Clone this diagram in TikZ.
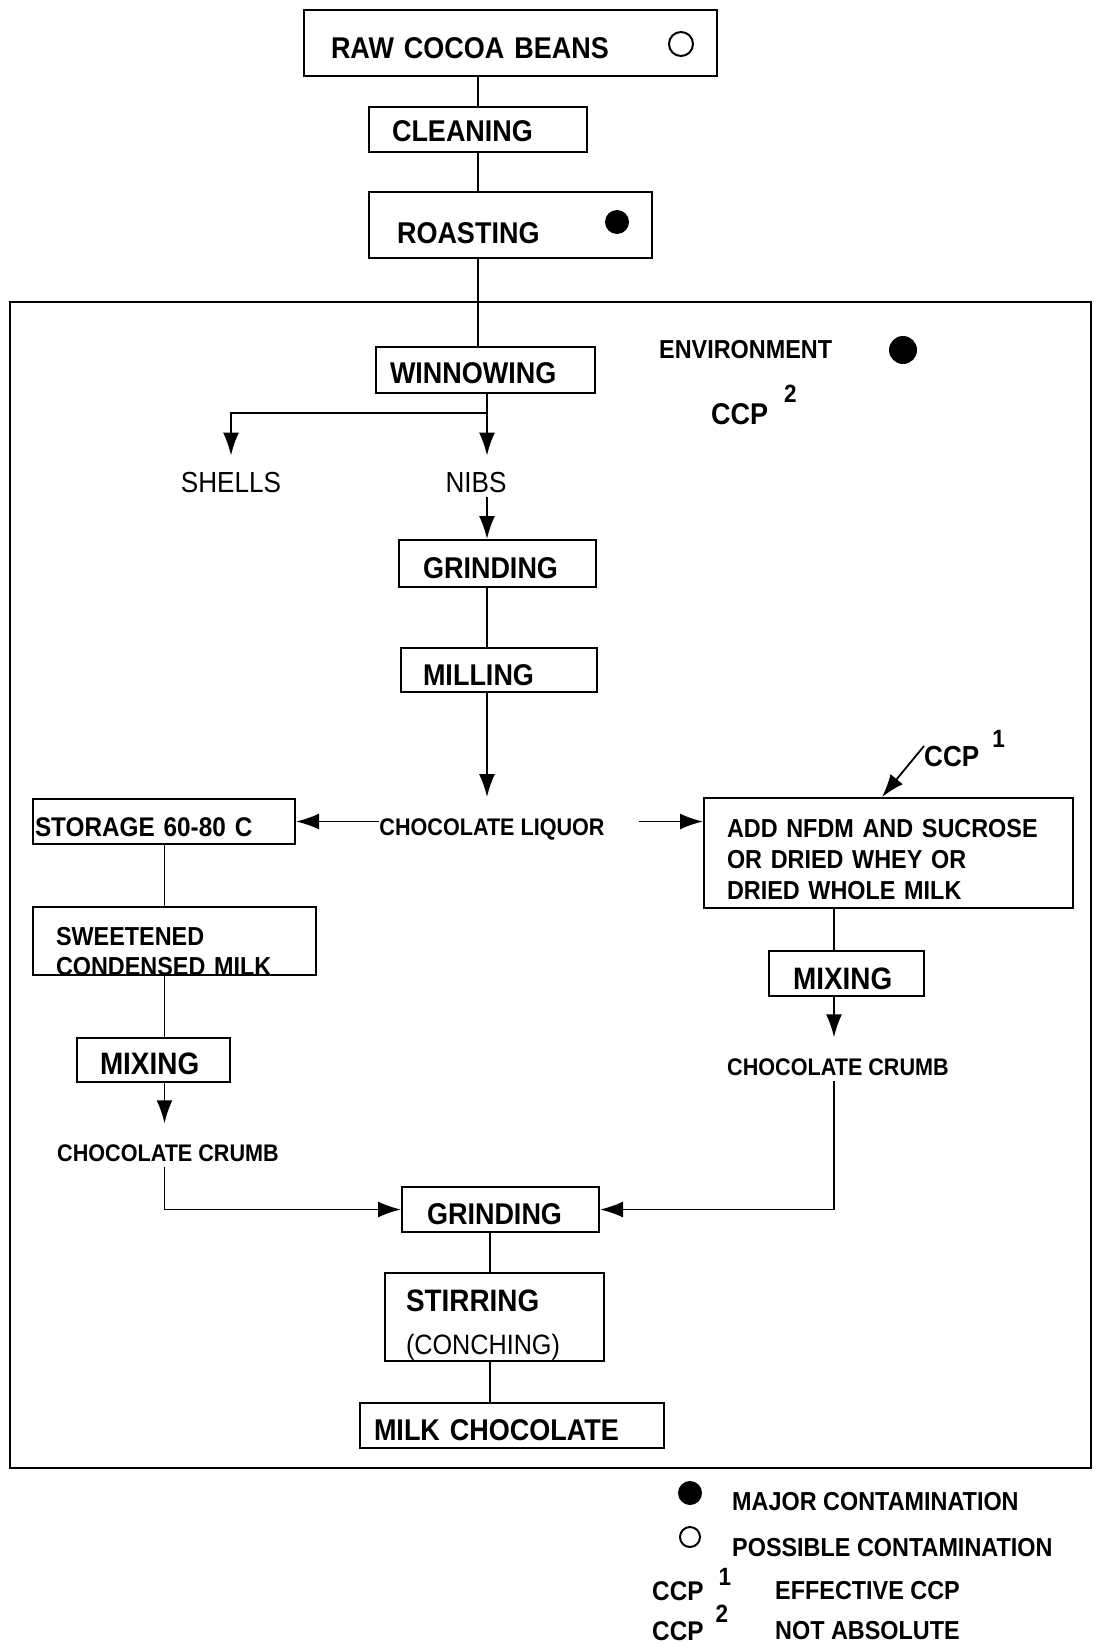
\documentclass[tikz,border=0pt]{standalone}
\usepackage{fontspec}
\setmainfont[FakeStretch=0.9]{Liberation Sans}
\usetikzlibrary{arrows.meta,positioning}
\newcommand{\fsz}[1]{\fontsize{#1}{#1}\selectfont}
% lower the ink of a label, keep its box
\newcommand{\dn}[2]{\raisebox{-#1}[\height][\depth]{#2}}
% CCP with a raised number: gap, raise, number
\newcommand{\ccpsup}[3]{CCP\hspace{#1}\raisebox{#2}{\fsz{25}#3}}

\begin{document}
\begin{tikzpicture}[x=1pt,y=-1pt]
  \tikzstyle{procbox} = [rectangle, draw=black, line width=2pt, align=left, inner ysep=0pt, font=\fsz{30}\bfseries]
  \tikzstyle{flowtext} = [inner sep=0pt, font=\fsz{24}\bfseries]
  \tikzstyle{plaintext} = [inner sep=0pt, font=\fsz{29}]
  \tikzstyle{legendtext} = [inner sep=0pt, anchor=west, font=\fsz{26}\bfseries]
  \tikzstyle{opendot} = [circle, draw=black, line width=2pt, minimum size=24pt, inner sep=0pt]
  \tikzstyle{fulldot} = [circle, fill=black, minimum size=24pt, inner sep=0pt]
  \tikzstyle{link} = [line width=1.8pt]
  \tikzstyle{arrow} = [link, -{Latex[length=23pt,width=16pt]}]

  \useasboundingbox (0,0) rectangle (1093,1645);

  % environment frame
  \draw [line width=2pt] (10,302) rectangle (1091,1468);

  \node (raw) [procbox, minimum height=66pt, text width=359pt, inner xsep=27pt] at (510.5,43) {\dn{5pt}{RAW COCOA BEANS}};
  \node (rawmark) [opendot] at (681,44) {};
  \node (clean) [procbox, minimum height=45pt, text width=172pt, inner xsep=23pt] at (478,129.5) {\dn{2pt}{CLEANING}};
  \node (roast) [procbox, minimum height=66pt, text width=227pt, inner xsep=28pt] at (510.5,225) {\dn{8pt}{ROASTING}};
  \node (roastmark) [fulldot] at (617,222) {};
  \node (winnow) [procbox, minimum height=46pt, text width=191pt, inner xsep=14pt] at (485.5,370) {\dn{3pt}{WINNOWING}};

  \node (env) [legendtext] at (659,350) {ENVIRONMENT};
  \node (envmark) [fulldot, minimum size=28pt] at (903,350) {};
  \node (ccpB) [anchor=base west, inner sep=0pt, font=\fsz{30}\bfseries] at (711,424) {\ccpsup{16pt}{22pt}{2}};

  \node (shells) [plaintext] at (231,483) {SHELLS};
  \node (nibs) [plaintext] at (476,483) {NIBS};
  \node (grindA) [procbox, minimum height=47pt, text width=149pt, inner xsep=24pt] at (497.5,563.5) {\dn{5pt}{GRINDING}};
  \node (mill) [procbox, minimum height=44pt, text width=152pt, inner xsep=22pt] at (499,670) {\dn{5pt}{MILLING}};
  \node (liquor) [flowtext] at (492,829) {CHOCOLATE LIQUOR};

  \node (storage) [procbox, minimum height=45pt, text width=258pt, inner xsep=2pt, font=\fsz{27}\bfseries] at (164,821.5) {\dn{6pt}{STORAGE 60-80 C}};
  \node (add) [procbox, minimum height=110pt, text width=323pt, inner xsep=23pt, font=\fontsize{26}{31}\selectfont\bfseries] at (888.5,853) {\dn{7pt}{ADD NFDM AND SUCROSE}\\\dn{7pt}{OR DRIED WHEY OR}\\\dn{7pt}{DRIED WHOLE MILK}};
  \node (ccpA) [anchor=base west, inner sep=0pt, font=\fsz{29}\bfseries] at (924,766) {\ccpsup{13pt}{19pt}{1}};

  \node (sweet) [procbox, minimum height=68pt, text width=237pt, inner xsep=23pt, font=\fontsize{26}{30}\selectfont\bfseries] at (174.5,941) {\dn{11pt}{SWEETENED}\\\dn{11pt}{CONDENSED MILK}};
  \node (mixL) [procbox, minimum height=44pt, text width=107pt, inner xsep=23pt, font=\fsz{31}\bfseries] at (153.5,1060) {\dn{4pt}{MIXING}};
  \node (crumbL) [flowtext] at (168,1153) {CHOCOLATE CRUMB};
  \node (mixR) [procbox, minimum height=45pt, text width=107pt, inner xsep=24pt, font=\fsz{31}\bfseries] at (846.5,973.5) {\dn{5pt}{MIXING}};
  \node (crumbR) [flowtext] at (838,1067) {CHOCOLATE CRUMB};

  \node (grindB) [procbox, minimum height=45pt, text width=147pt, inner xsep=25pt] at (500.5,1209.5) {\dn{5pt}{GRINDING}};
  \node (stir) [procbox, minimum height=88pt, text width=177pt, inner xsep=21pt, font=\fontsize{31}{45}\selectfont\bfseries] at (494.5,1317) {\dn{9pt}{STIRRING}\\{\mdseries\fsz{28}\dn{7pt}{(CONCHING)}}};
  \node (milk) [procbox, minimum height=45pt, text width=276pt, inner xsep=14pt] at (512,1425.5) {\dn{5pt}{MILK CHOCOLATE}};

  % legend
  \node (majormark) [fulldot] at (690,1493) {};
  \node (major) [legendtext] at (732,1502) {MAJOR CONTAMINATION};
  \node (possmark) [opendot, minimum size=20pt] at (690,1537) {};
  \node (poss) [legendtext] at (732,1548) {POSSIBLE CONTAMINATION};
  \node (ccpone) [anchor=base west, inner sep=0pt, font=\fsz{27}\bfseries] at (652,1600) {\ccpsup{15pt}{15pt}{1}};
  \node (effective) [legendtext] at (775,1591) {EFFECTIVE CCP};
  \node (ccptwo) [anchor=base west, inner sep=0pt, font=\fsz{27}\bfseries] at (652,1640) {\ccpsup{12pt}{18pt}{2}};
  \node (notabs) [legendtext] at (775,1631) {NOT ABSOLUTE};

  % column lines
  \coordinate (topx) at (478,0);
  \coordinate (leftx) at (164.5,0);
  \coordinate (rightx) at (834,0);
  \coordinate (lowx) at (490,0);
  \coordinate (split) at (487,413);

  \draw [link] (topx |- raw.south) -- (topx |- clean.north);
  \draw [link] (topx |- clean.south) -- (topx |- roast.north);
  \draw [link] (topx |- roast.south) -- (topx |- winnow.north);
  \draw [link] (split |- winnow.south) -- (split);
  \draw [arrow, shorten >=17pt] (split) -| (shells.north);
  \draw [arrow, shorten >=17pt] (split) -- (split |- nibs.north);
  \draw [arrow, shorten <=4pt] (split |- nibs.south) -- (split |- grindA.north);
  \draw [link] (split |- grindA.south) -- (split |- mill.north);
  \draw [arrow, shorten >=21pt] (split |- mill.south) -- (split |- liquor.north);
  \draw [arrow] (liquor.west |- storage.east) -- (storage.east);
  \draw [arrow, shorten <=34pt] (liquor.east |- storage.east) -- (add.west |- storage.east);
  \draw [arrow] ([yshift=20pt]ccpA.base west) -- ([xshift=-6.5pt]add.north);

  % left branch
  \draw [link] (leftx |- storage.south) -- (leftx |- sweet.north);
  \draw [link] (leftx |- sweet.south) -- (leftx |- mixL.north);
  \draw [arrow, shorten >=21pt] (leftx |- mixL.south) -- (leftx |- crumbL.north);
  \draw [arrow, shorten <=5pt] (leftx |- crumbL.south) |- (grindB.west);

  % right branch
  \draw [link] (rightx |- add.south) -- (rightx |- mixR.north);
  \draw [arrow, shorten >=21pt] (rightx |- mixR.south) -- (rightx |- crumbR.north);
  \draw [arrow, shorten <=5pt] (rightx |- crumbR.south) |- (grindB.east);

  \draw [link] (lowx |- grindB.south) -- (lowx |- stir.north);
  \draw [link] (lowx |- stir.south) -- (lowx |- milk.north);
\end{tikzpicture}
\end{document}
